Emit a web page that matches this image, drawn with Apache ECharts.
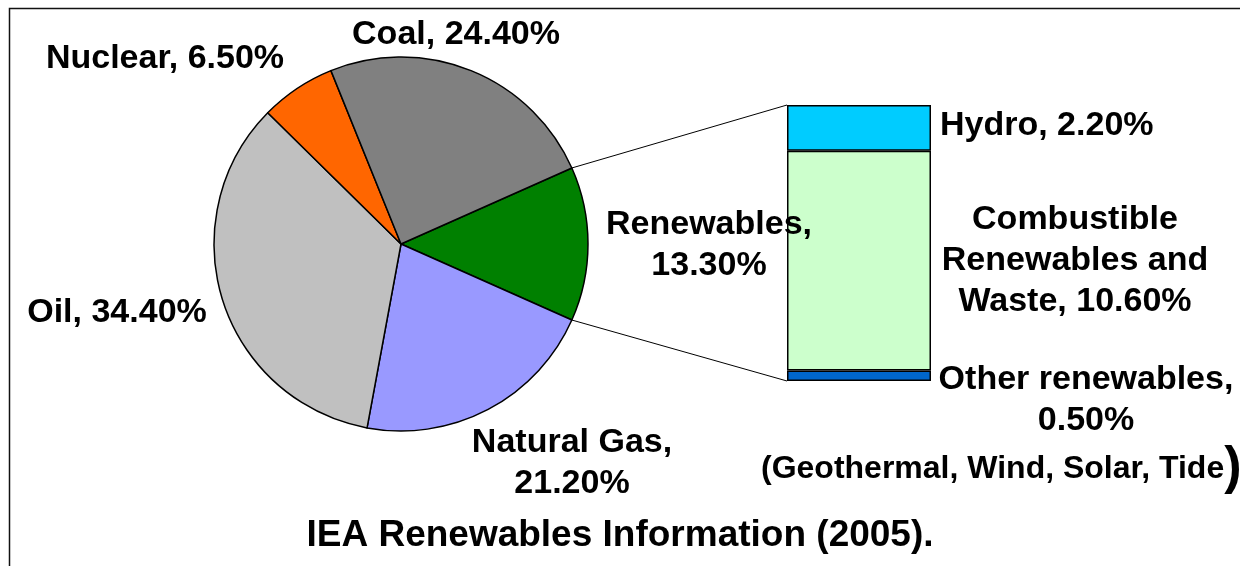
<!DOCTYPE html>
<html>
<head>
<meta charset="utf-8">
<script src="https://cdn.jsdelivr.net/npm/echarts@6/dist/echarts.min.js"></script>
<style>
  html, body { margin: 0; padding: 0; background: #fff; }
  #chart { width: 1240px; height: 566px; }
</style>
</head>
<body>
<div id="chart"></div>
<script>
// world primary energy supply shares (%)
var sources = ['Renewables', 'Natural Gas', 'Oil', 'Nuclear', 'Coal'];
var shares = [13.3, 21.2, 34.4, 6.5, 24.4];
var sourceColors = ['#008000', '#9999FF', '#C0C0C0', '#FF6600', '#808080'];

// split of the renewables slice, bottom to top
var renewParts = ['Other renewables', 'Combustible Renewables and Waste', 'Hydro'];
var renewValues = [0.5, 10.6, 2.2];
var renewColors = ['#0066CC', '#CCFFCC', '#00CCFF'];

var font = '"Liberation Sans", Arial, sans-serif';

// layout
var pieX = 401, pieY = 244, pieR = 187;
var barLeft = 787, barTop = 105, barW = 144, barH = 276;
// where each pie label sits (centre of the text block)
var pieLabelPos = [[709, 245], [572, 463], [117, 313], [165, 59], [456, 35]];
var pieLabelBreak = [true, true, false, false, false];

var total = shares.reduce(function(a, b) { return a + b; }, 0);
var renewTotal = renewValues.reduce(function(a, b) { return a + b; }, 0);
var startAngle = shares[0] / total * 360 / 2;

var chart = echarts.init(document.getElementById('chart'));

var labelBase = {
  fontFamily: font,
  fontWeight: 'bold',
  fontSize: 34,
  lineHeight: 41,
  color: '#000'
};

function barSeries(i, label) {
  return {
    name: renewParts[i],
    type: 'bar',
    stack: 'renew',
    barWidth: '100%',
    data: [renewValues[i]],
    itemStyle: { color: renewColors[i], borderColor: '#000', borderWidth: 1.5 },
    label: Object.assign({ show: true, position: 'right' }, labelBase, label),
    z: 3
  };
}

var option = {
  animation: false,
  title: {
    text: 'IEA Renewables Information (2005).',
    left: 'center',
    top: 517,
    padding: 0,
    textStyle: { fontFamily: font, fontWeight: 'bold', fontSize: 37, color: '#000' }
  },
  grid: { left: barLeft, top: barTop, width: barW, height: barH },
  xAxis: { type: 'category', data: ['Renewables'], show: false },
  yAxis: { type: 'value', min: 0, max: renewTotal, show: false },
  series: [
    {
      type: 'pie',
      center: [pieX, pieY],
      radius: pieR,
      startAngle: startAngle,
      clockwise: true,
      avoidLabelOverlap: false,
      data: sources.map(function(name, i) {
        return { name: name, value: shares[i], itemStyle: { color: sourceColors[i] } };
      }),
      itemStyle: { borderColor: '#000', borderWidth: 1.5 },
      label: Object.assign({
        show: true,
        position: 'outside',
        align: 'center',
        formatter: function(p) {
          return p.name + ',' + (pieLabelBreak[p.dataIndex] ? '\n' : ' ') + p.value.toFixed(2) + '%';
        }
      }, labelBase),
      labelLine: { show: false },
      labelLayout: function(p) {
        var pos = pieLabelPos[p.dataIndex];
        return { x: pos[0], y: pos[1], align: 'center', verticalAlign: 'middle' };
      },
      emphasis: { disabled: true },
      z: 4
    },
    barSeries(0, {
      align: 'center', distance: 7, offset: [148, 24],
      formatter: function(p) { return 'Other renewables,\n' + p.value.toFixed(2) + '%'; }
    }),
    barSeries(1, {
      align: 'center', distance: 11, offset: [133, 0],
      formatter: function(p) { return 'Combustible\nRenewables and\nWaste, ' + p.value.toFixed(2) + '%'; }
    }),
    barSeries(2, {
      distance: 9, offset: [0, -2],
      formatter: function(p) { return 'Hydro, ' + p.value.toFixed(2) + '%'; }
    })
  ]
};

chart.setOption(option);

// connector lines from the renewables slice to the bar, plus frame and note
var a = startAngle * Math.PI / 180;
var topY = chart.convertToPixel({ yAxisIndex: 0 }, renewTotal);
var botY = chart.convertToPixel({ yAxisIndex: 0 }, 0);
chart.setOption({
  graphic: [
    {
      type: 'rect', silent: true,
      shape: { x: 9.5, y: 8.5, width: 1400, height: 800 },
      style: { fill: 'none', stroke: '#111', lineWidth: 1.5 }
    },
    {
      type: 'line', silent: true,
      shape: { x1: pieX + pieR * Math.cos(a), y1: pieY - pieR * Math.sin(a), x2: barLeft, y2: topY },
      style: { stroke: '#000', lineWidth: 1 }
    },
    {
      type: 'line', silent: true,
      shape: { x1: pieX + pieR * Math.cos(a), y1: pieY + pieR * Math.sin(a), x2: barLeft, y2: botY },
      style: { stroke: '#000', lineWidth: 1 }
    },
    {
      type: 'text', silent: true,
      left: 761, top: 443,
      style: {
        text: '{a|(Geothermal, Wind, Solar, Tide}{b|)}',
        rich: {
          a: { fontFamily: font, fontWeight: 'bold', fontSize: 32, color: '#000', height: 48 },
          b: { fontFamily: font, fontWeight: 'bold', fontSize: 52, color: '#000', height: 48 }
        }
      }
    }
  ]
});
</script>
</body>
</html>
